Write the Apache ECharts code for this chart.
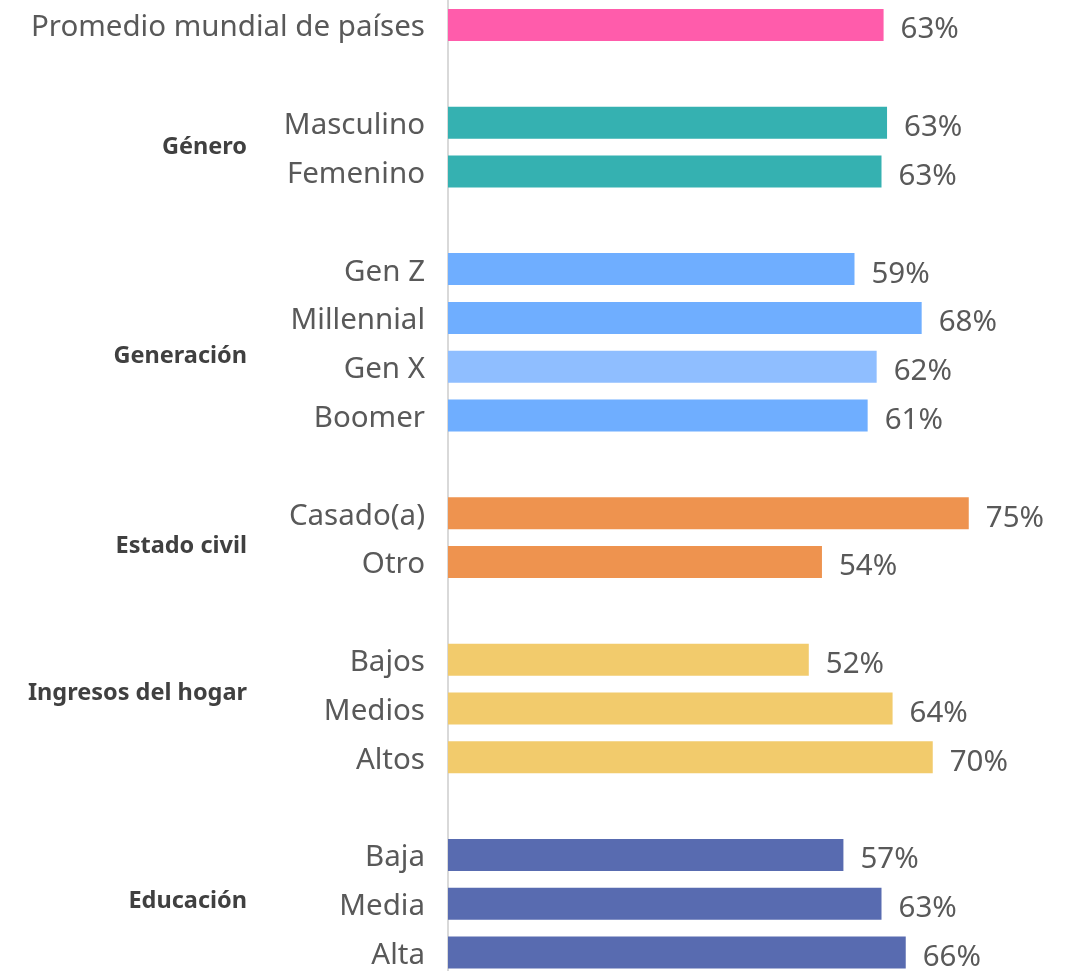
<!DOCTYPE html>
<html>
<head>
<meta charset="utf-8">
<script src="https://cdn.jsdelivr.net/npm/echarts@6/dist/echarts.min.js"></script>
<style>
  html, body { margin: 0; padding: 0; background: #fff; overflow: hidden; }
  #main { width: 1071px; height: 977px; }
</style>
</head>
<body>
<div id="main"></div>
<script>
// categories (empty strings are the spacer rows between groups)
const categories = [
  "Promedio mundial de países", "",
  "Masculino", "Femenino", "",
  "Gen Z", "Millennial", "Gen X", "Boomer", "",
  "Casado(a)", "Otro", "",
  "Bajos", "Medios", "Altos", "",
  "Baja", "Media", "Alta"
];
// values; labels show them rounded
const values = [
  62.9, null,
  63.4, 62.6, null,
  58.7, 68.4, 61.9, 60.6, null,
  75.2, 54.0, null,
  52.1, 64.2, 70.0, null,
  57.1, 62.6, 66.1
];
const barColors = [
  "#FF5CAB", null,
  "#35B1B1", "#35B1B1", null,
  "#6FAEFF", "#6FAEFF", "#8FBEFF", "#6FAEFF", null,
  "#EE934F", "#EE934F", null,
  "#F2CB6C", "#F2CB6C", "#F2CB6C", null,
  "#586BB0", "#586BB0", "#586BB0"
];
const groupLabels = ["Género", "Generación", "Estado civil", "Ingresos del hogar", "Educación"];
const groupY = [147, 356, 546, 693, 901];

const chart = echarts.init(document.getElementById("main"));

const option = {
  animation: false,
  grid: { left: 448, top: 0.6, width: 554, bottom: 0 },
  xAxis: {
    type: "value",
    min: 0,
    max: 80,
    show: false
  },
  yAxis: {
    type: "category",
    inverse: true,
    data: categories,
    axisLine: { show: true, lineStyle: { color: "#d9d9d9", width: 2 } },
    axisTick: { show: false },
    axisLabel: {
      margin: 23,
      formatter: v => (v ? "{c|" + v + "}" : ""),
      rich: {
        c: {
          fontFamily: "Noto Sans",
          fontSize: 29.5,
          color: "#595959",
          padding: [6, 0, 0, 0]
        }
      }
    }
  },
  series: [
    {
      type: "bar",
      barWidth: 32,
      data: values.map((v, i) => ({
        value: v,
        itemStyle: { color: barColors[i] }
      })),
      label: {
        show: true,
        position: "right",
        distance: 17,
        offset: [0, 5],
        fontFamily: "Noto Sans",
        fontSize: 29.5,
        color: "#595959",
        formatter: p => (p.value == null ? "" : Math.round(p.value) + "%")
      }
    }
  ],
  graphic: groupLabels.map((t, i) => ({
    type: "text",
    right: 1071 - 247,
    top: groupY[i] - 12,
    style: {
      text: t,
      font: "bold 23.5px 'Noto Sans'",
      fill: "#404040",
      textAlign: "right"
    }
  }))
};

chart.setOption(option);
</script>
</body>
</html>
